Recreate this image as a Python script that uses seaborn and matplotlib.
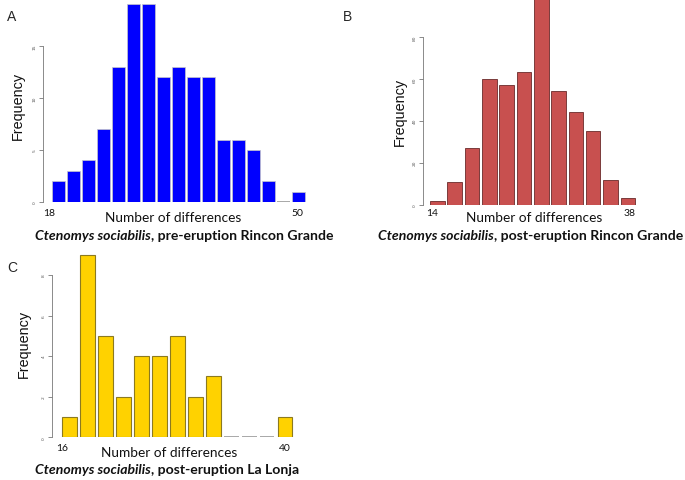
import matplotlib
matplotlib.use("Agg")
import matplotlib.pyplot as plt
import seaborn as sns
import numpy as np

# ---------------- data ----------------
a_bin_left = [18, 20, 22, 24, 26, 28, 30, 32, 34, 36, 38, 40, 42, 44, 46, 48, 50]
a_counts = [2, 3, 4, 7, 13, 19, 19, 12, 13, 12, 12, 6, 6, 5, 2, 0, 1]
a_yticks = [0, 5, 10, 15]
a_xlabels = ["18", "50"]

b_bin_left = [14, 16, 18, 20, 22, 24, 26, 28, 30, 32, 34, 36]
b_counts = [2, 11, 27, 60, 57, 63, 98, 54, 44, 35, 12, 3]
b_yticks = [0, 20, 40, 60, 80]
b_xlabels = ["14", "38"]

c_bin_left = [16, 18, 20, 22, 24, 26, 28, 30, 32, 34, 36, 38, 40]
c_counts = [1, 9, 5, 2, 4, 4, 5, 2, 3, 0, 0, 0, 1]
c_yticks = [0, 2, 4, 6, 8]
c_xlabels = ["16", "40"]

x_title = "Number of differences"
y_title = "Frequency"
species = "Ctenomys sociabilis"
a_site = ", pre-eruption Rincon Grande"
b_site = ", post-eruption Rincon Grande"
c_site = ", post-eruption La Lonja"
panel_letters = ["A", "B", "C"]

# ---------------- figure ----------------
sns.set_theme(style="white")
plt.rcParams["font.family"] = ["Lato", "DejaVu Sans"]

W, H = 685, 481
fig = plt.figure(figsize=(W / 100, H / 100), dpi=100)


def P(x, y):
    return x / W, 1 - y / H


def make_axes(left, right, top, bottom):
    return fig.add_axes([left / W, 1 - bottom / H, (right - left) / W, (bottom - top) / H])


def panel(ax, bins, counts, color, edge, lw, shrink, xlim, ylim, yticks, zero_h):
    edges = list(bins) + [bins[-1] + 2]
    centers = [b + 1 for b in bins]
    sns.histplot(x=centers, weights=counts, bins=edges, shrink=shrink, color=color,
                 edgecolor=edge, linewidth=lw, alpha=1, ax=ax)
    # empty classes are drawn as a thin grey base line (as in R's hist)
    for p in ax.patches:
        if p.get_height() == 0:
            p.set_height(zero_h)
            p.set_facecolor("#AAAAAA")
            p.set_edgecolor("none")
    ax.set_xlim(*xlim)
    ax.set_ylim(*ylim)
    ax.set_xticks([])
    ax.set_yticks(yticks)
    ax.set_yticklabels([str(t) for t in yticks], rotation=90, va="center",
                       fontsize=3.2, color="#555555", family="DejaVu Sans")
    ax.tick_params(axis="y", left=True, length=3, width=0.6, color="#777777", pad=1.5)
    for s in ["top", "right", "bottom"]:
        ax.spines[s].set_visible(False)
    ax.spines["left"].set_bounds(yticks[0], yticks[-1])
    ax.spines["left"].set_color("#777777")
    ax.spines["left"].set_linewidth(0.6)
    ax.set_xlabel("")
    ax.set_ylabel("")
    ax.patch.set_alpha(0)


axA = make_axes(42.7, 306.0, 2.3, 203.0)
panel(axA, a_bin_left, a_counts, "#0000FF", "#C8C8C8", 0.5, 0.87,
      (16.85, 52.0), (0, 19.3), a_yticks, 0.1)

axB = make_axes(422.7, 639.1, 0.0, 205.7)
panel(axB, b_bin_left, b_counts, "#C8504F", "#6A2A2A", 0.6, 0.84,
      (13.31, 38.3), (0, 98.0), b_yticks, 0.5)

axC = make_axes(52.3, 295.8, 254.6, 438.3)
panel(axC, c_bin_left, c_counts, "#FFD200", "#8C7A20", 0.8, 0.83,
      (15.12, 42.2), (0, 9.05), c_yticks, 0.05)

# y titles
for (x, y) in [(18, 106), (400, 112), (24, 344)]:
    fig.text(*P(x, y), y_title, rotation=90, ha="center", va="center",
             fontsize=10.4, family=["Liberation Sans"], color="#111111")

# panel letters
fig.text(*P(12, 17), panel_letters[0], ha="center", va="center", fontsize=10, family=["Liberation Sans"])
fig.text(*P(348, 17), panel_letters[1], ha="center", va="center", fontsize=10, family=["Liberation Sans"])
fig.text(*P(12, 268), panel_letters[2], ha="center", va="center", fontsize=10, family=["Liberation Sans"])


# x end labels and x titles
def xlabels(labels, x0, x1, ylab, xc, yt):
    fig.text(*P(x0, ylab), labels[0], ha="center", va="center", fontsize=7.5, color="#111111")
    fig.text(*P(x1, ylab), labels[1], ha="center", va="center", fontsize=7.5, color="#111111")
    fig.text(*P(xc, yt), x_title, ha="center", va="center", fontsize=9.8, color="#111111")


xlabels(a_xlabels, 49, 297, 214, 173, 218.5)
xlabels(b_xlabels, 432, 630, 214, 534, 218.5)
xlabels(c_xlabels, 62, 285, 449, 169, 453)


def title(x, y, rest):
    t1 = fig.text(*P(x, y), species, ha="left", va="center", fontsize=10.1,
                  fontweight="bold", style="italic", color="#111111")
    fig.add_artist(matplotlib.text.Annotation(rest, xy=(1, 0), xycoords=t1, va="bottom", ha="left",
                                              fontsize=10.1, fontweight="bold", color="#111111"))


title(35, 236, a_site)
title(378, 236, b_site)
title(35, 470, c_site)

fig.savefig("out.png", dpi=100)
